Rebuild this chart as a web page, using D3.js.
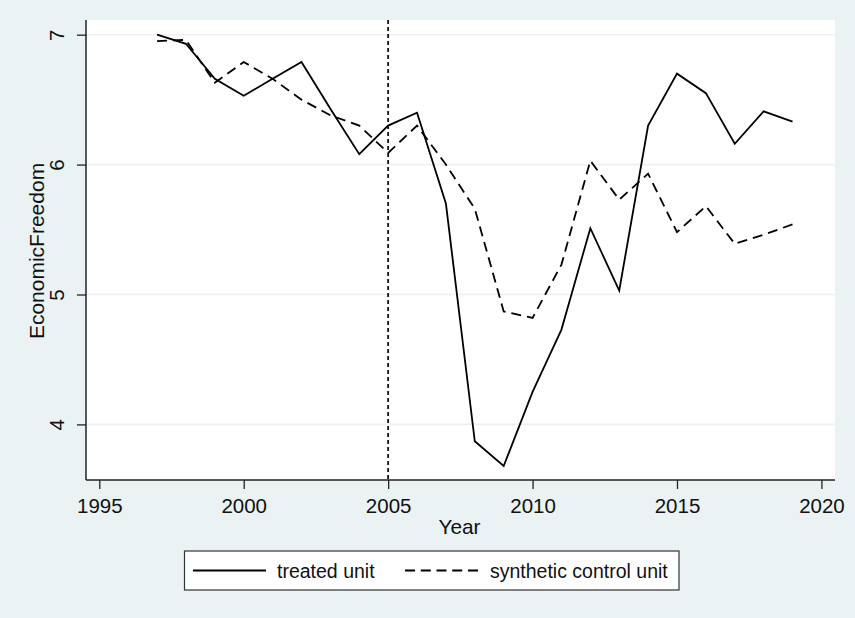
<!DOCTYPE html>
<html>
<head>
<meta charset="utf-8">
<script src="https://cdn.jsdelivr.net/npm/d3@7"></script>
<style>
  html, body { margin: 0; padding: 0; background: #eaf2f3; }
  svg { display: block; font-family: "Liberation Sans", Arial, sans-serif; }
</style>
</head>
<body>
<svg id="chart" width="855" height="618"></svg>
<script>
// Economic freedom: treated unit vs. synthetic control, 1997–2019
const years = [1997, 1998, 1999, 2000, 2001, 2002, 2003, 2004, 2005, 2006, 2007, 2008,
               2009, 2010, 2011, 2012, 2013, 2014, 2015, 2016, 2017, 2018, 2019];
const treated = [7.00, 6.93, 6.66, 6.53, 6.66, 6.79, 6.43, 6.08, 6.30, 6.40, 5.70, 3.87,
                 3.68, 4.25, 4.73, 5.51, 5.03, 6.30, 6.70, 6.55, 6.16, 6.41, 6.33];
const synthetic = [6.95, 6.96, 6.63, 6.79, 6.66, 6.50, 6.38, 6.30, 6.09, 6.30, 6.00, 5.66,
                   4.87, 4.82, 5.23, 6.03, 5.73, 5.93, 5.48, 5.68, 5.39, 5.46, 5.54];
const xTicks = [1995, 2000, 2005, 2010, 2015, 2020];
const yTicks = [4, 5, 6, 7];
const treatmentYear = 2005;
const seriesNames = ["treated unit", "synthetic control unit"];

const svg = d3.select("#chart");
const W = 855, H = 618;
const plot = { left: 86, right: 835, top: 20, bottom: 480 };

svg.append("rect").attr("width", W).attr("height", H).attr("fill", "#eaf2f3");
svg.append("rect")
  .attr("x", plot.left).attr("y", plot.top)
  .attr("width", plot.right - plot.left).attr("height", plot.bottom - plot.top)
  .attr("fill", "#ffffff");

const x = d3.scaleLinear().domain([1994.54, 2020.47]).range([plot.left, plot.right]);
const y = d3.scaleLinear().domain([3.572, 7.113]).range([plot.bottom, plot.top]);

// horizontal grid
svg.append("g").selectAll("line").data(yTicks).join("line")
  .attr("x1", plot.left).attr("x2", plot.right)
  .attr("y1", d => y(d)).attr("y2", d => y(d))
  .attr("stroke", "#eaf2f3").attr("stroke-width", 1.6);

// treatment marker
svg.append("line")
  .attr("x1", x(treatmentYear)).attr("x2", x(treatmentYear))
  .attr("y1", plot.top).attr("y2", plot.bottom)
  .attr("stroke", "#111").attr("stroke-width", 1.8)
  .attr("stroke-dasharray", "4,3");

const line = d3.line().x((d, i) => x(years[i])).y(d => y(d));

svg.append("path").datum(synthetic)
  .attr("d", line).attr("fill", "none")
  .attr("stroke", "#000").attr("stroke-width", 1.8)
  .attr("stroke-dasharray", "10,6");

svg.append("path").datum(treated)
  .attr("d", line).attr("fill", "none")
  .attr("stroke", "#000").attr("stroke-width", 1.8);

// x axis
const gx = svg.append("g").attr("transform", `translate(0,${plot.bottom})`)
  .call(d3.axisBottom(x).tickValues(xTicks).tickFormat(d3.format("d")).tickSize(9).tickSizeOuter(0));
gx.select(".domain").attr("stroke", "#222").attr("stroke-width", 1.5)
  .attr("d", `M${plot.left},0H${plot.right}`);
gx.selectAll(".tick line").attr("stroke", "#222").attr("stroke-width", 1.3);
gx.selectAll(".tick text").attr("y", 32.5).attr("dy", 0)
  .attr("font-size", 20.5).attr("fill", "#111")
  .attr("font-family", "Liberation Sans, Arial, sans-serif");

// y axis
const gy = svg.append("g").attr("transform", `translate(${plot.left},0)`)
  .call(d3.axisLeft(y).tickValues(yTicks).tickFormat(d3.format("d")).tickSize(9).tickSizeOuter(0));
gy.select(".domain").attr("stroke", "#222").attr("stroke-width", 1.5)
  .attr("d", `M0,${plot.top}V${plot.bottom}`);
gy.selectAll(".tick line").attr("stroke", "#222").attr("stroke-width", 1.3);
gy.selectAll(".tick text")
  .attr("transform", "rotate(-90)")
  .attr("x", 0).attr("y", -22).attr("dy", 0)
  .attr("text-anchor", "middle")
  .attr("font-size", 20.5).attr("fill", "#111")
  .attr("font-family", "Liberation Sans, Arial, sans-serif");

// axis titles
svg.append("text")
  .attr("x", (plot.left + plot.right) / 2 - 1).attr("y", 533.5)
  .attr("text-anchor", "middle").attr("font-size", 20.8).attr("fill", "#111")
  .text("Year");
svg.append("text")
  .attr("transform", `translate(44,251) rotate(-90)`)
  .attr("text-anchor", "middle").attr("font-size", 21).attr("fill", "#111")
  .text("EconomicFreedom");

// legend
const lg = svg.append("g");
lg.append("rect")
  .attr("x", 184.5).attr("y", 551).attr("width", 494.5).attr("height", 39)
  .attr("fill", "#fff").attr("stroke", "#333").attr("stroke-width", 1.2);
lg.append("line").attr("x1", 193).attr("x2", 266).attr("y1", 570.5).attr("y2", 570.5)
  .attr("stroke", "#000").attr("stroke-width", 1.8);
lg.append("text").attr("x", 277).attr("y", 577.5)
  .attr("font-size", 19.5).attr("fill", "#111").text(seriesNames[0]);
lg.append("line").attr("x1", 405).attr("x2", 478).attr("y1", 570.5).attr("y2", 570.5)
  .attr("stroke", "#000").attr("stroke-width", 1.8).attr("stroke-dasharray", "10,5.75");
lg.append("text").attr("x", 490).attr("y", 577.5)
  .attr("font-size", 19.5).attr("fill", "#111").text(seriesNames[1]);
</script>
</body>
</html>
